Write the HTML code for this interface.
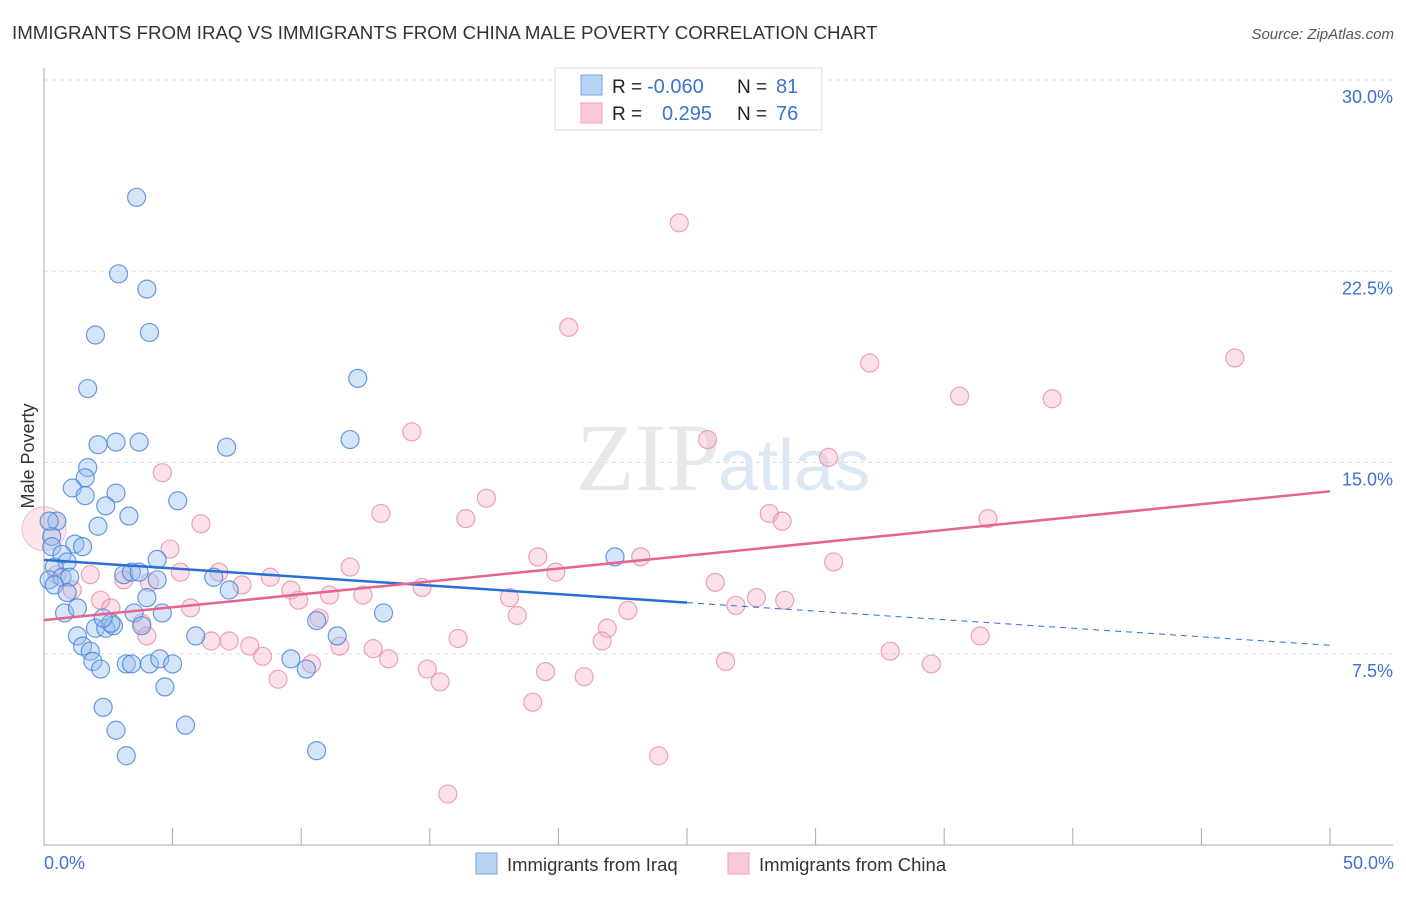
<!DOCTYPE html>
<html><head><meta charset="utf-8"><style>
body{margin:0;background:#fff;font-family:"Liberation Sans",sans-serif}
</style></head><body>
<svg width="1406" height="892" viewBox="0 0 1406 892">
<text x="12" y="39" font-size="18.7" fill="#333">IMMIGRANTS FROM IRAQ VS IMMIGRANTS FROM CHINA MALE POVERTY CORRELATION CHART</text>
<text x="1394" y="39" font-size="15" fill="#555" font-style="italic" text-anchor="end">Source: ZipAtlas.com</text>
<g id="grid"></g>
<text x="720" y="490" font-size="96" fill="#e8e8e8" font-family="Liberation Serif,serif" text-anchor="end">ZIP</text>
<text x="718" y="490" font-size="72" fill="#dde8f6" text-anchor="start">atlas</text>
<g id="pts"></g>
<g id="lines"></g>
<text transform="translate(34,456) rotate(-90)" font-size="18" fill="#333" text-anchor="middle">Male Poverty</text>
<text x="44" y="869" font-size="18" fill="#3d72d0">0.0%</text>
<text x="1394" y="869" font-size="18" fill="#3d72d0" text-anchor="end">50.0%</text>
<g>
<rect x="555" y="68" width="267" height="62" fill="#fff" stroke="#ddd"/>
<rect x="581" y="75" width="21" height="20" fill="#b9d3f5" stroke="#7aa5e2"/>
<rect x="581" y="103" width="21" height="20" fill="#fbcad7" stroke="#f0a3b8"/>
<text x="612" y="93" font-size="19" fill="#222">R = </text><text x="647" y="93" font-size="20" fill="#3d72d0">-0.060</text>
<text x="737" y="93" font-size="19" fill="#222">N = </text><text x="776" y="93" font-size="20" fill="#3d72d0">81</text>
<text x="612" y="120" font-size="19" fill="#222">R = </text><text x="662" y="120" font-size="20" fill="#3d72d0">0.295</text>
<text x="737" y="120" font-size="19" fill="#222">N = </text><text x="776" y="120" font-size="20" fill="#3d72d0">76</text>
</g>
<g>
<rect x="476" y="853" width="21" height="21" fill="#b9d3f5" stroke="#7aa5e2"/>
<text x="507" y="871" font-size="18.5" fill="#333">Immigrants from Iraq</text>
<rect x="728" y="853" width="21" height="21" fill="#fbcad7" stroke="#f0a3b8"/>
<text x="759" y="871" font-size="18.5" fill="#333">Immigrants from China</text>
</g>
</svg>
<script>
const yTicks=[7.5,15,22.5,30];
const yTickLabels=["7.5%","15.0%","22.5%","30.0%"];
const xTicks=[0,5,10,15,20,25,30,35,40,45,50];
const iraqX=[3.6,2.9,4.0,2.0,4.1,1.7,12.2,2.1,2.8,3.7,7.1,11.9,1.7,1.6,1.1,2.8,1.6,5.2,2.4,3.3,0.5,2.1,0.3,0.3,1.2,1.5,0.7,0.9,4.4,22.2,0.4,0.2,0.7,1.0,3.1,3.4,3.7,4.4,6.6,7.2,0.4,0.9,4.0,0.8,1.3,3.5,4.6,13.2,10.6,2.0,2.4,2.7,2.6,2.3,3.8,1.3,1.5,1.8,5.9,11.4,1.9,2.2,3.2,3.4,4.1,4.5,5.0,9.6,10.2,4.7,2.3,2.8,5.5,3.2,10.6,0.2];
const iraqY=[25.4,22.4,21.8,20.0,20.1,17.9,18.3,15.7,15.8,15.8,15.6,15.9,14.8,14.4,14.0,13.8,13.7,13.5,13.3,12.9,12.7,12.5,12.1,11.7,11.8,11.7,11.4,11.1,11.2,11.3,10.9,10.4,10.5,10.5,10.6,10.7,10.7,10.4,10.5,10.0,10.2,9.9,9.7,9.1,9.3,9.1,9.1,9.1,8.8,8.5,8.5,8.6,8.7,8.9,8.6,8.2,7.8,7.6,8.2,8.2,7.2,6.9,7.1,7.1,7.1,7.3,7.1,7.3,6.9,6.2,5.4,4.5,4.7,3.5,3.7,12.7];
const chinaX=[24.7,20.4,32.1,46.3,35.6,39.2,14.3,25.8,30.5,4.6,17.2,13.1,16.4,28.2,28.7,36.7,6.1,4.9,19.2,23.2,30.7,11.9,19.9,6.8,5.3,1.8,7.7,8.8,26.1,4.1,3.1,9.6,14.7,11.1,12.4,9.9,18.1,27.7,28.8,26.9,22.7,2.2,2.6,5.7,10.7,18.4,3.8,16.1,21.9,4.0,6.5,7.2,8.0,11.5,12.8,21.7,36.4,8.5,13.4,32.9,10.4,14.9,19.5,26.5,34.5,9.1,15.4,21.0,19.0,23.9,15.7,0.5,1.1];
const chinaY=[24.4,20.3,18.9,19.1,17.6,17.5,16.2,15.9,15.2,14.6,13.6,13.0,12.8,13.0,12.7,12.8,12.6,11.6,11.3,11.3,11.1,10.9,10.7,10.7,10.7,10.6,10.2,10.5,10.3,10.3,10.4,10.0,10.1,9.8,9.8,9.6,9.7,9.7,9.6,9.4,9.2,9.6,9.3,9.3,8.9,9.0,8.7,8.1,8.5,8.2,8.0,8.0,7.8,7.8,7.7,8.0,8.2,7.4,7.3,7.6,7.1,6.9,6.8,7.2,7.1,6.5,6.4,6.6,5.6,3.5,2.0,10.6,10.0];
const iraqTrend=[11.18,-0.067];
const chinaTrend=[8.82,0.101];
const NS="http://www.w3.org/2000/svg";
const X=v=>44+v*25.72, Y=v=>845-v*25.5;
function mk(t,a,p){const e=document.createElementNS(NS,t);for(const k in a)e.setAttribute(k,a[k]);p.appendChild(e);return e;}
const grid=document.getElementById('grid');
yTicks.forEach((t,i)=>{
 const l=mk('line',{x1:44,x2:1393,y1:Y(t),y2:Y(t),stroke:'#ddd','stroke-dasharray':'4,4'},grid);
 
 
 const tx=mk('text',{x:1393,y:Y(t)+23,'font-size':18,fill:'#3d72d0','text-anchor':'end'},grid);
 tx.textContent=yTickLabels[i];
 
 
});
const ax=mk('line',{x1:44,x2:44,y1:68,y2:845,stroke:'#aaa'},grid);


const bx=mk('line',{x1:44,x2:1393,y1:845,y2:845,stroke:'#aaa'},grid);


xTicks.forEach(t=>{const l=mk('line',{x1:X(t),x2:X(t),y1:828,y2:845,stroke:'#aaa'},grid);
 
 });
const pts=document.getElementById('pts');
const big=mk('circle',{cx:X(0),cy:Y(12.4),r:22,fill:'rgba(245,170,190,0.3)',stroke:'rgba(232,140,168,0.5)'},pts);


chinaX.forEach((x,i)=>{const c=mk('circle',{cx:X(x),cy:Y(chinaY[i]),r:9,fill:'rgba(245,170,190,0.35)',stroke:'rgba(232,140,168,0.8)','stroke-width':1.2},pts);
 
 });
iraqX.forEach((x,i)=>{const c=mk('circle',{cx:X(x),cy:Y(iraqY[i]),r:9,fill:'rgba(150,190,240,0.4)',stroke:'rgba(70,130,215,0.8)','stroke-width':1.2},pts);
 
 });
const lines=document.getElementById('lines');
const f=(tr,x)=>tr[0]+tr[1]*x;
const l1=mk('line',{x1:X(0),y1:Y(f(iraqTrend,0)),x2:X(25),y2:Y(f(iraqTrend,25)),stroke:'#2a6fd6','stroke-width':2.5},lines);


const l2=mk('line',{x1:X(25),y1:Y(f(iraqTrend,25)),x2:X(50),y2:Y(f(iraqTrend,50)),stroke:'#2a6fd6','stroke-width':1,'stroke-dasharray':'6,5'},lines);


const l3=mk('line',{x1:X(0),y1:Y(f(chinaTrend,0)),x2:X(50),y2:Y(f(chinaTrend,50)),stroke:'#e4658f','stroke-width':2.5},lines);


</script>
</body></html>
